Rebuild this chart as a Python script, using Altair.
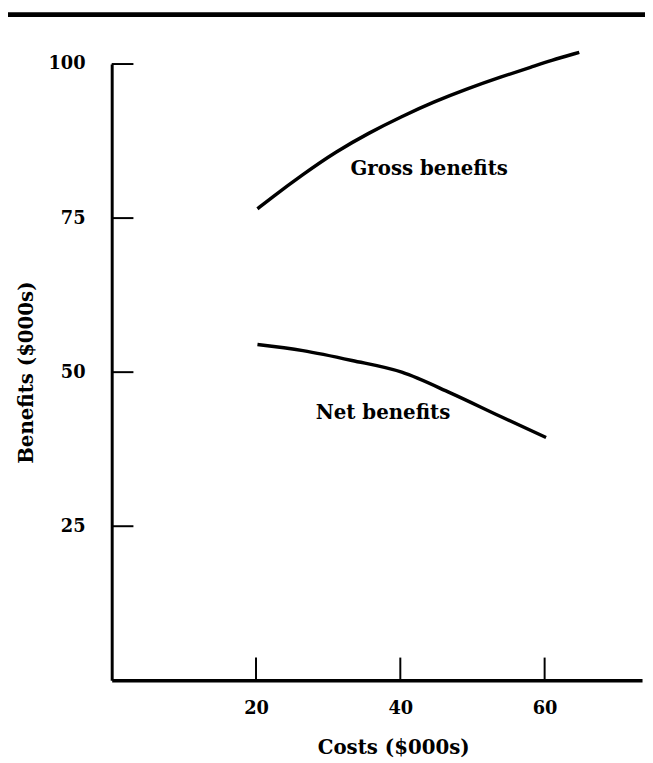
import altair as alt
import pandas as pd

# ---- data ----
cost_ticks = [20, 40, 60]
benefit_ticks = [25, 50, 75, 100]

gross_cost = [20.2, 21.9, 26.5, 31.1, 35.6, 40.2, 44.7, 49.3, 53.9, 58.4, 60.7, 64.8]
gross_benefit = [76.5, 78.1, 82.1, 85.8, 88.8, 91.5, 93.9, 96.0, 97.9, 99.6, 100.5, 101.9]

net_cost = [20.2, 26.5, 33.3, 40.2, 47.0, 53.9, 60.2]
net_benefit = [54.5, 53.5, 51.9, 50.0, 46.6, 42.8, 39.4]

label_text = ["Gross benefits", "Net benefits"]
label_cost = [44.0, 37.6]
label_benefit = [83.0, 43.3]

FONT = "DejaVu Serif"
W, H = 537, 624

gross = pd.DataFrame({"cost": gross_cost, "benefit": gross_benefit})
net = pd.DataFrame({"cost": net_cost, "benefit": net_benefit})
labels = pd.DataFrame({"text": label_text, "cost": label_cost, "benefit": label_benefit})
xt = pd.DataFrame({"cost": cost_ticks})
yt = pd.DataFrame({"benefit": benefit_ticks})

xscale = alt.Scale(domain=[0, 73.5], nice=False, zero=False)
yscale = alt.Scale(domain=[0, 100], nice=False, zero=False)

xaxis = alt.Axis(values=cost_ticks, grid=False, ticks=False, tickSize=0,
                 domainColor="black", domainWidth=3.5,
                 labelFont=FONT, labelFontWeight="bold", labelFontSize=18, labelColor="black",
                 labelPadding=20, title="Costs ($000s)", titleFont=FONT, titleFontWeight="bold",
                 titleFontSize=20, titleColor="black", titlePadding=20, titleX=285)
yaxis = alt.Axis(values=benefit_ticks, grid=False, ticks=False, tickSize=0,
                 domainColor="black", domainWidth=3,
                 labelFont=FONT, labelFontWeight="bold", labelFontSize=18, labelColor="black",
                 labelPadding=27, title="Benefits ($000s)", titleFont=FONT, titleFontWeight="bold",
                 titleFontSize=20, titleColor="black", titlePadding=12)

gross_line = alt.Chart(gross).mark_line(color="black", strokeWidth=3.5, interpolate="basis").encode(
    x=alt.X("cost:Q", scale=xscale, axis=xaxis),
    y=alt.Y("benefit:Q", scale=yscale, axis=yaxis),
)

net_line = alt.Chart(net).mark_line(color="black", strokeWidth=3.5, interpolate="monotone").encode(
    x=alt.X("cost:Q", scale=xscale),
    y=alt.Y("benefit:Q", scale=yscale),
)

ytick_marks = alt.Chart(yt).mark_rule(color="black", strokeWidth=2).encode(
    y=alt.Y("benefit:Q", scale=yscale),
    x=alt.value(0), x2=alt.value(22),
)

xtick_marks = alt.Chart(xt).mark_rule(color="black", strokeWidth=2).encode(
    x=alt.X("cost:Q", scale=xscale),
    y=alt.value(H - 23), y2=alt.value(H),
)

top_rule = alt.Chart(pd.DataFrame({"a": [0]})).mark_rule(color="black", strokeWidth=5).encode(
    x=alt.value(-108), x2=alt.value(W + 3), y=alt.value(-50),
)

text = alt.Chart(labels).mark_text(font=FONT, fontWeight="bold", fontSize=20, color="black").encode(
    x=alt.X("cost:Q", scale=xscale),
    y=alt.Y("benefit:Q", scale=yscale),
    text="text:N",
)

chart = alt.layer(gross_line, net_line, ytick_marks, xtick_marks, top_rule, text).properties(
    width=W, height=H,
    autosize=alt.AutoSizeParams(type="none"),
    padding={"left": 105, "top": 52, "right": 3, "bottom": 78},
    background="white",
).configure_view(stroke=None)

chart.save("out.html", embed_options={"renderer": "svg", "actions": False})
